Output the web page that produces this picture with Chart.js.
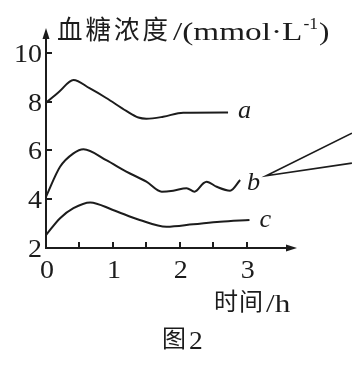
<!DOCTYPE html>
<html>
<head>
<meta charset="utf-8">
<script src="https://cdn.jsdelivr.net/npm/chart.js@4"></script>
<style>
  html, body { margin: 0; padding: 0; background: #fff; }
  canvas { display: block; }
</style>
</head>
<body>
<canvas id="sugar-chart" width="352" height="368"></canvas>
<script>
// curve a
const aTime = [0, 0.2, 0.41, 0.65, 0.9, 1.2, 1.38, 1.5, 1.75, 2.05, 2.72];
const aValue = [7.95, 8.42, 8.89, 8.55, 8.15, 7.62, 7.35, 7.3, 7.38, 7.55, 7.56];
// curve b
const bTime = [0, 0.21, 0.41, 0.56, 0.9, 1.2, 1.5, 1.73, 1.9, 2.1, 2.22, 2.35, 2.4, 2.55, 2.75, 2.9];
const bValue = [4.1, 5.33, 5.88, 6.05, 5.6, 5.13, 4.72, 4.31, 4.35, 4.45, 4.31, 4.65, 4.72, 4.51, 4.35, 4.79];
// curve c
const cTime = [0, 0.21, 0.41, 0.66, 1.0, 1.4, 1.8, 2.2, 2.6, 3.04];
const cValue = [2.53, 3.22, 3.63, 3.87, 3.56, 3.15, 2.87, 2.97, 3.08, 3.15];
// callout lines next to b
const calloutTime = [4.57, 3.29, 4.57];
const calloutValue = [6.71, 4.96, 5.48];

const xTicks = [0.5, 1, 1.5, 2, 2.5, 3];
const xTickLabels = [0, 1, 2, 3];
const yTicks = [4, 6, 8, 10];
const yTickLabels = [2, 4, 6, 8, 10];
const curveNames = ["a", "b", "c"];

const ink = "#1c1c1c";

function points(xs, ys) {
  return xs.map((x, i) => ({ x: x, y: ys[i] }));
}

// draw text squeezed/stretched to a horizontal scale
function wideText(ctx, text, x, y, sx) {
  ctx.save();
  ctx.translate(x, y);
  ctx.scale(sx, 1);
  ctx.fillText(text, 0, 0);
  ctx.restore();
  return ctx.measureText(text).width * sx;
}

const axesPlugin = {
  id: "axesPlugin",
  afterDraw: (chart) => {
    const ctx = chart.ctx;
    const xs = chart.scales.x;
    const ys = chart.scales.y;
    const left = chart.chartArea.left;
    const bottom = chart.chartArea.bottom;
    const top = chart.chartArea.top;
    const right = chart.chartArea.right;

    ctx.save();
    ctx.strokeStyle = ink;
    ctx.fillStyle = ink;
    ctx.lineWidth = 2;

    // axes
    ctx.beginPath();
    ctx.moveTo(left, top + 6);
    ctx.lineTo(left, bottom);
    ctx.lineTo(right - 6, bottom);
    ctx.stroke();

    // arrow heads
    ctx.beginPath();
    ctx.moveTo(left, top);
    ctx.lineTo(left - 3.5, top + 11);
    ctx.lineTo(left + 3.5, top + 11);
    ctx.closePath();
    ctx.fill();
    ctx.beginPath();
    ctx.moveTo(right, bottom);
    ctx.lineTo(right - 11, bottom - 3.5);
    ctx.lineTo(right - 11, bottom + 3.5);
    ctx.closePath();
    ctx.fill();

    // tick marks
    ctx.lineWidth = 2;
    xTicks.forEach((t) => {
      const px = Math.round(xs.getPixelForValue(t));
      ctx.beginPath();
      ctx.moveTo(px, bottom);
      ctx.lineTo(px, bottom - 6);
      ctx.stroke();
    });
    yTicks.forEach((t) => {
      const py = Math.round(ys.getPixelForValue(t));
      ctx.beginPath();
      ctx.moveTo(left, py);
      ctx.lineTo(left + 6, py);
      ctx.stroke();
    });

    // tick labels
    ctx.font = "25px 'Liberation Serif'";
    ctx.textBaseline = "alphabetic";
    yTickLabels.forEach((t) => {
      const py = ys.getPixelForValue(t);
      const w = ctx.measureText(String(t)).width * 1.12;
      wideText(ctx, String(t), left - 4 - w, py + 9, 1.12);
    });
    xTickLabels.forEach((t) => {
      const px = xs.getPixelForValue(t);
      const w = ctx.measureText(String(t)).width * 1.12;
      wideText(ctx, String(t), px - w / 2 + 1, bottom + 30, 1.12);
    });

    // y axis title
    ctx.font = "26px 'Noto Sans CJK SC'";
    let x = 57;
    "血糖浓度".split("").forEach((ch) => {
      wideText(ctx, ch, x, 39, 0.98);
      x += 28.5;
    });
    ctx.font = "26px 'Liberation Serif'";
    x = 173;
    x += wideText(ctx, "/(mmol·L", x, 40, 1.28);
    ctx.font = "16px 'Liberation Serif'";
    x += wideText(ctx, "-1", x + 1, 29, 1.1) + 2;
    ctx.font = "26px 'Liberation Serif'";
    wideText(ctx, ")", x, 40, 1.2);

    // x axis title
    ctx.font = "24px 'Noto Sans CJK SC'";
    wideText(ctx, "时", 214, 310, 1.0);
    wideText(ctx, "间", 239, 310, 1.0);
    ctx.font = "26px 'Liberation Serif'";
    wideText(ctx, "/h", 266, 312, 1.2);

    // caption
    ctx.font = "24px 'Noto Sans CJK SC'";
    wideText(ctx, "图", 162, 347, 1.0);
    ctx.font = "25px 'Liberation Serif'";
    wideText(ctx, "2", 189, 349, 1.1);

    // curve names next to the last point of each curve
    const offsets = [[10, 6], [7, 10], [10, 7]];
    ctx.font = "italic 25px 'Liberation Serif'";
    curveNames.forEach((name, i) => {
      const meta = chart.getDatasetMeta(i);
      const last = meta.data[meta.data.length - 1];
      wideText(ctx, name, last.x + offsets[i][0], last.y + offsets[i][1], 1.05);
    });

    ctx.restore();
  },
};

const curveStyle = {
  borderColor: ink,
  borderWidth: 2,
  pointRadius: 0,
  fill: false,
  cubicInterpolationMode: "monotone",
};

new Chart(document.getElementById("sugar-chart"), {
  type: "line",
  data: {
    datasets: [
      Object.assign({ label: "a", data: points(aTime, aValue) }, curveStyle),
      Object.assign({ label: "b", data: points(bTime, bValue) }, curveStyle),
      Object.assign({ label: "c", data: points(cTime, cValue) }, curveStyle),
      {
        label: "callout",
        data: points(calloutTime, calloutValue),
        borderColor: ink,
        borderWidth: 1.6,
        pointRadius: 0,
        tension: 0,
        clip: false,
      },
    ],
  },
  options: {
    responsive: false,
    animation: false,
    devicePixelRatio: 1,
    layout: {
      padding: { left: 46, right: 55, top: 28, bottom: 120 },
    },
    scales: {
      x: { type: "linear", min: 0, max: 3.75, display: false },
      y: { type: "linear", min: 2, max: 11.02, display: false },
    },
    plugins: {
      legend: { display: false },
      tooltip: { enabled: false },
    },
  },
  plugins: [axesPlugin],
});
</script>
</body>
</html>
